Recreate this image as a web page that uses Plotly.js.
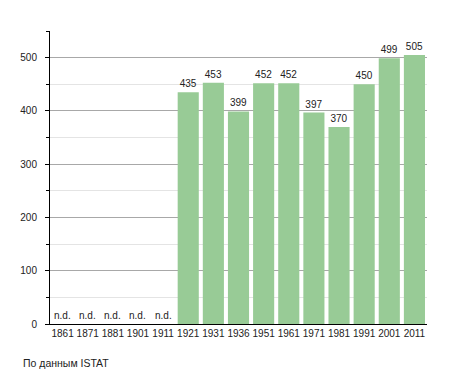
<!DOCTYPE html>
<html>
<head>
<meta charset="utf-8">
<script src="https://cdn.plot.ly/plotly-3.0.1.min.js"></script>
<style>html,body{margin:0;padding:0;background:#fff;}#chart{width:455px;height:373px;}</style>
</head>
<body>
<div id="chart"></div>
<script>
const years = ["1861","1871","1881","1901","1911","1921","1931","1936","1951","1961","1971","1981","1991","2001","2011"];
const population = [null,null,null,null,null,435,453,399,452,452,397,370,450,499,505];
const missingLabel = "n.d.";
const sourceNote = "По данным ISTAT";

const FONT = "Liberation Sans, Arial, sans-serif";
const FS = 10;
const TXT = '#222';
const W = 455, H = 373, ml = 50, mr = 28, mt = 31, mb = 49;

const annotations = [];
years.forEach((yr, i) => {
  if (population[i] === null) {
    annotations.push({
      x: i, y: 0, xref: 'x', yref: 'y', text: missingLabel, showarrow: false,
      yanchor: 'bottom', yshift: 1, font: {family: FONT, size: FS, color: TXT}
    });
  }
});
annotations.push({
  x: (21 - ml) / (W - ml - mr), y: 1 - (363 - mt) / (H - mt - mb),
  xref: 'paper', yref: 'paper', text: sourceNote, showarrow: false,
  xanchor: 'left', yanchor: 'middle', font: {family: FONT, size: 10.5, color: TXT}
});

const trace = {
  type: 'bar',
  x: years,
  y: population,
  marker: {color: '#98cb96', line: {width: 0}},
  text: population.map(v => v === null ? '' : String(v)),
  textposition: 'outside',
  textfont: {family: FONT, size: FS, color: TXT},
  cliponaxis: false,
  hoverinfo: 'none'
};

const layout = {
  width: W, height: H,
  margin: {l: ml, r: mr, t: mt, b: mb, pad: 0},
  paper_bgcolor: '#fff', plot_bgcolor: '#fff',
  bargap: 0.16,
  showlegend: false,
  font: {family: FONT, size: FS, color: TXT},
  xaxis: {
    type: 'category',
    categoryorder: 'array', categoryarray: years,
    range: [-0.5, years.length - 0.5], autorange: false,
    showline: true, linecolor: '#000', linewidth: 1,
    ticks: '', showgrid: false, tickangle: 0,
    tickfont: {family: FONT, size: FS, color: TXT},
    fixedrange: true
  },
  yaxis: {
    range: [0, 550], autorange: false,
    dtick: 100, tick0: 0,
    showline: true, linecolor: '#000', linewidth: 1,
    ticks: 'outside', ticklen: 4, tickcolor: '#000',
    showgrid: true, gridcolor: '#a8a8a8', gridwidth: 1,
    zeroline: false,
    tickfont: {family: FONT, size: FS, color: TXT},
    ticklabelstandoff: 6,
    minor: {dtick: 50, tick0: 0, showgrid: true, gridcolor: '#e4e4e4', ticks: 'outside', ticklen: 3, tickcolor: '#000'},
    fixedrange: true
  },
  annotations: annotations
};

Plotly.newPlot('chart', [trace], layout, {displayModeBar: false, staticPlot: true});
</script>
</body>
</html>
